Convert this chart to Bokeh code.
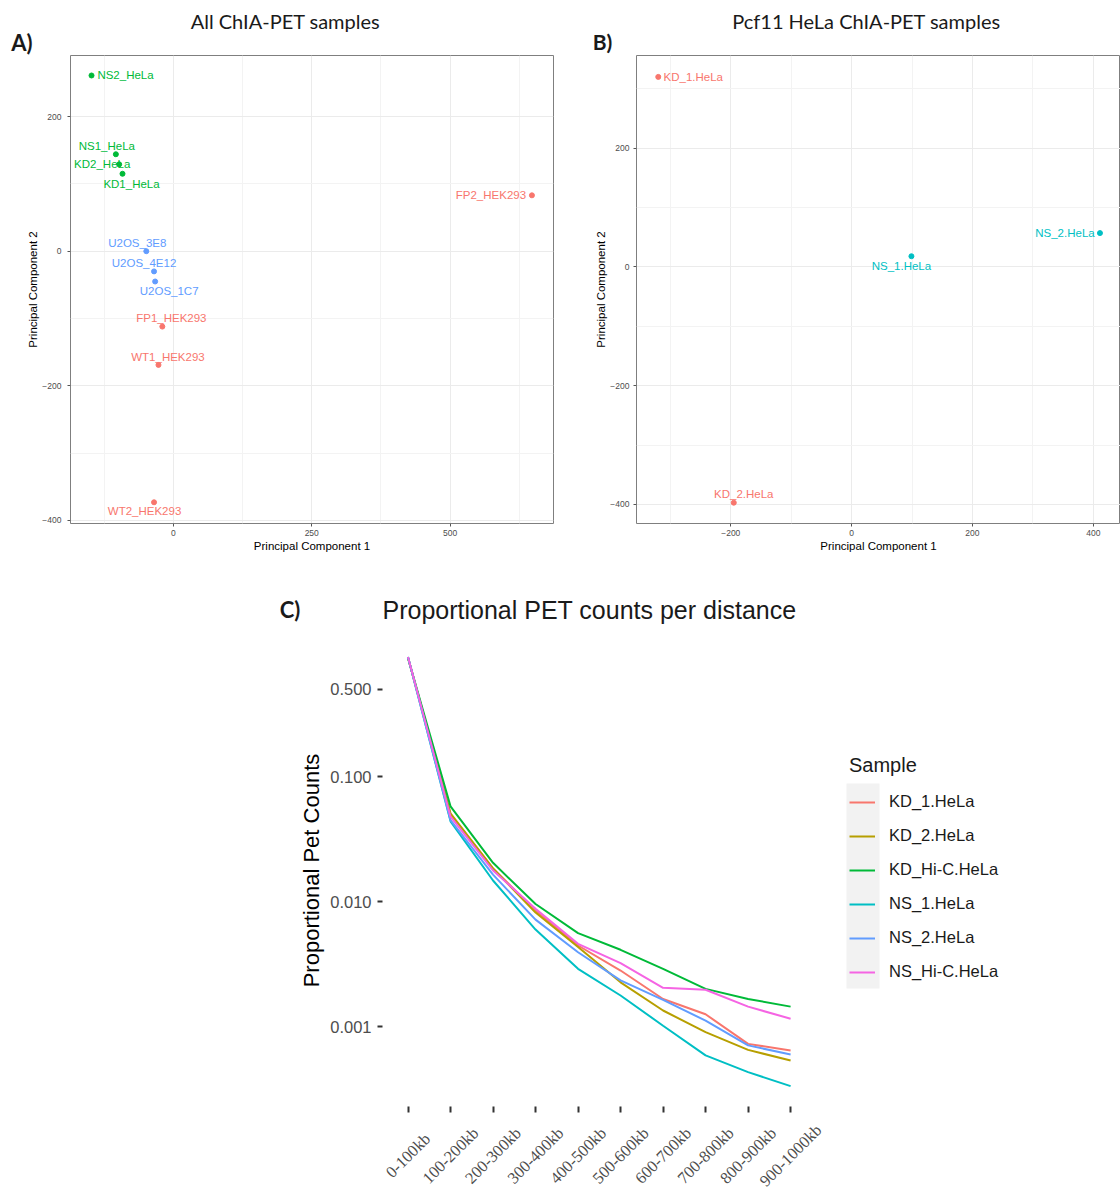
import math
from bokeh.plotting import figure
from bokeh.models import (ColumnDataSource, Label, LabelSet, FixedTicker, CustomJSTickFormatter,
                          Range1d, Legend, LegendItem, BoxAnnotation)
from bokeh.layouts import column, row
from bokeh.embed import file_html
from bokeh.resources import INLINE
from bokeh.core.properties import value

# ---------------- data ----------------
# Panel A: PCA of all ChIA-PET samples
a_samples = ["NS2_HeLa", "NS1_HeLa", "KD2_HeLa", "KD1_HeLa", "U2OS_3E8", "U2OS_4E12",
             "U2OS_1C7", "FP1_HEK293", "WT1_HEK293", "WT2_HEK293", "FP2_HEK293"]
a_cell = ["HeLa", "HeLa", "HeLa", "HeLa", "U2OS", "U2OS", "U2OS",
          "HEK293", "HEK293", "HEK293", "HEK293"]
a_pc1 = [-148, -104, -98, -92, -49, -35, -33, -20, -27, -35, 648]
a_pc2 = [261, 144, 129, 115, 0, -30, -45, -112, -169, -373, 83]
a_xticks = [0, 250, 500]
a_yticks = [-400, -200, 0, 200]

# Panel B: PCA of Pcf11 HeLa samples
b_samples = ["KD_1.HeLa", "KD_2.HeLa", "NS_1.HeLa", "NS_2.HeLa"]
b_group = ["KD", "KD", "NS", "NS"]
b_pc1 = [-320, -195, 99, 411]
b_pc2 = [320, -397, 18, 57]
b_xticks = [-200, 0, 200, 400]
b_yticks = [-400, -200, 0, 200]

# Panel C: proportional PET counts per distance
distance_bins = ["0-100kb", "100-200kb", "200-300kb", "300-400kb", "400-500kb",
                 "500-600kb", "600-700kb", "700-800kb", "800-900kb", "900-1000kb"]
kd_1_hela = [0.90, 0.050, 0.0185, 0.0085, 0.00447, 0.00282, 0.00167, 0.00126, 0.00073, 0.000646]
kd_2_hela = [0.90, 0.051, 0.0185, 0.0082, 0.00435, 0.00227, 0.00135, 0.000906, 0.000654, 0.000537]
kd_hic_hela = [0.89, 0.058, 0.0205, 0.0096, 0.00561, 0.00413, 0.00291, 0.00201, 0.00167, 0.00145]
ns_1_hela = [0.91, 0.044, 0.0148, 0.0060, 0.00291, 0.00178, 0.00102, 0.00059, 0.000434, 0.000335]
ns_2_hela = [0.91, 0.045, 0.0165, 0.0072, 0.00395, 0.00235, 0.00164, 0.00112, 0.00071, 0.00060]
ns_hic_hela = [0.91, 0.048, 0.0178, 0.0088, 0.00461, 0.00323, 0.00205, 0.00198, 0.00145, 0.00116]
c_names = ["KD_1.HeLa", "KD_2.HeLa", "KD_Hi-C.HeLa", "NS_1.HeLa", "NS_2.HeLa", "NS_Hi-C.HeLa"]
c_series = [kd_1_hela, kd_2_hela, kd_hic_hela, ns_1_hela, ns_2_hela, ns_hic_hela]
c_yticks = [0.001, 0.01, 0.1, 0.5]

# ---------------- styles ----------------
FONT = "Liberation Sans"
HEAD_FONT = "Lato"
cell_colors = {"HEK293": "#F8766D", "HeLa": "#00BA38", "U2OS": "#619CFF"}
group_colors = {"KD": "#F8766D", "NS": "#00BFC4"}
c_colors = ["#F8766D", "#B79F00", "#00BA38", "#00BFC4", "#619CFF", "#F564E3"]
# label offsets (pixels) relative to their point
a_label_dx = [34, -9, -17, 9, -9, -10, 14, 9, 9.5, -9.5, -41]
a_label_dy = [0, -8, 0, 10, -8, -8, 10, -9, -8, 9, 0]
b_label_dx = [35, 10, -10, -35]
b_label_dy = [0, -9, 10, 0]

minus_fmt = CustomJSTickFormatter(code="return tick < 0 ? '\u2212' + Math.abs(tick) : String(tick);")


def blank(width, height, x_range=None):
    h = figure(width=width, height=height,
               x_range=x_range if x_range is not None else Range1d(0, width),
               y_range=Range1d(0, height),
               x_axis_location=None, y_axis_location=None, min_border=0,
               output_backend="svg", toolbar_location=None)
    h.outline_line_color = None
    h.grid.visible = False
    return h


def header(height, labels):
    h = blank(1120, height)
    for (txt, x, y, size, font, style, align) in labels:
        h.add_layout(Label(x=x, y=height - y, x_units="screen", y_units="screen", text=txt,
                           text_align=align, text_baseline="middle", text_font=font,
                           text_font_size=size, text_font_style=style, text_color="#1a1a1a"))
    return h


def style_pca(p, xticks, yticks, xminor, yminor, ylabel_standoff):
    p.outline_line_color = "#7f7f7f"
    p.outline_line_width = 1
    p.background_fill_color = "white"
    for ax in (p.xaxis[0], p.yaxis[0]):
        ax.axis_line_color = None
        ax.major_tick_in = 0
        ax.major_tick_out = 3
        ax.major_tick_line_color = "#555555"
        ax.minor_tick_line_color = None
        ax.major_label_text_font = FONT
        ax.major_label_text_font_size = "8.5px"
        ax.major_label_text_color = "#4D4D4D"
        ax.axis_label_text_font = FONT
        ax.axis_label_text_font_size = "11.5px"
        ax.axis_label_text_font_style = "normal"
        ax.axis_label_text_color = "#000000"
        ax.formatter = minus_fmt
    p.xaxis[0].ticker = FixedTicker(ticks=xticks, minor_ticks=xminor)
    p.yaxis[0].ticker = FixedTicker(ticks=yticks, minor_ticks=yminor)
    p.xaxis[0].major_label_standoff = 2
    p.xaxis[0].axis_label_standoff = 1
    p.yaxis[0].major_label_standoff = ylabel_standoff
    p.yaxis[0].axis_label_standoff = 0
    p.xaxis[0].axis_label = "Principal Component 1"
    p.yaxis[0].axis_label = "Principal Component 2"
    for g, t, m in ((p.xgrid[0], xticks, xminor), (p.ygrid[0], yticks, yminor)):
        g.ticker = FixedTicker(ticks=t, minor_ticks=m)
        g.grid_line_color = "#EBEBEB"
        g.grid_line_width = 1
        g.minor_grid_line_color = "#F3F3F3"
        g.minor_grid_line_width = 1


# ---------------- headers ----------------
hdr_top = header(55, [
    ("All ChIA-PET samples", 285, 20, "20px", HEAD_FONT, "normal", "center"),
    ("Pcf11 HeLa ChIA-PET samples", 866, 20, "20px", HEAD_FONT, "normal", "center"),
    ("A)", 21.5, 41.5, "22px", HEAD_FONT, "bold", "center"),
    ("B)", 602, 41, "21px", HEAD_FONT, "bold", "center"),
])
hdr_c = header(74, [
    ("C)", 289.5, 49, "22px", HEAD_FONT, "bold", "center"),
    ("Proportional PET counts per distance", 382, 49, "25px", FONT, "normal", "left"),
])

# ---------------- Panel A ----------------
pA = figure(width=560, height=505, x_range=Range1d(-186, 687), y_range=Range1d(-404.5, 290.7),
            output_backend="svg", toolbar_location=None,
            min_border_left=70, min_border_right=7, min_border_top=0, min_border_bottom=37)
style_pca(pA, a_xticks, a_yticks, [-125, 125, 375, 625], [-300, -100, 100], 5)
srcA = ColumnDataSource(dict(x=a_pc1, y=a_pc2, label=a_samples,
                             color=[cell_colors[c] for c in a_cell],
                             dx=a_label_dx, dy=a_label_dy))
pA.scatter("x", "y", size=5, color="color", source=srcA)
pA.text("x", "y", text="label", x_offset="dx", y_offset="dy", text_align="center",
        text_baseline="middle", text_color="color", text_font=value(FONT),
        text_font_size="11.5px", source=srcA)

# ---------------- Panel B ----------------
pB = figure(width=560, height=505, x_range=Range1d(-356, 445), y_range=Range1d(-432, 356),
            output_backend="svg", toolbar_location=None,
            min_border_left=76, min_border_right=0, min_border_top=0, min_border_bottom=35)
style_pca(pB, b_xticks, b_yticks, [-300, -100, 100, 300], [-300, -100, 100, 300], 3)
srcB = ColumnDataSource(dict(x=b_pc1, y=b_pc2, label=b_samples,
                             color=[group_colors[g] for g in b_group],
                             dx=b_label_dx, dy=b_label_dy))
pB.scatter("x", "y", size=5, color="color", source=srcB)
pB.text("x", "y", text="label", x_offset="dx", y_offset="dy", text_align="center",
        text_baseline="middle", text_color="color", text_font=value(FONT),
        text_font_size="11.5px", source=srcB)

# ---------------- Panel C ----------------
xs = list(range(len(distance_bins)))
c_xrange = Range1d(-0.6, 16.29)
pC = figure(width=1120, height=480, x_range=c_xrange,
            y_range=Range1d(10 ** -3.6376, 10 ** 0.1384), y_axis_type="log",
            output_backend="svg", toolbar_location=None,
            min_border_left=382, min_border_right=20, min_border_top=0, min_border_bottom=8)
pC.outline_line_color = None
pC.xgrid.visible = False
pC.ygrid.visible = False
for ax in (pC.xaxis[0], pC.yaxis[0]):
    ax.axis_line_color = None
    ax.major_tick_in = 0
    ax.major_tick_out = 6
    ax.major_tick_line_width = 2
    ax.major_tick_line_color = "#333333"
    ax.minor_tick_line_color = None
    ax.major_label_text_font = FONT
    ax.major_label_text_font_size = "16.5px"
    ax.major_label_text_color = "#4D4D4D"
    ax.axis_label_text_font = FONT
    ax.axis_label_text_font_style = "normal"
    ax.axis_label_text_color = "#000000"
pC.xaxis[0].ticker = FixedTicker(ticks=xs)
pC.xaxis[0].formatter = CustomJSTickFormatter(code="return '';")
pC.xaxis[0].major_label_standoff = 0
pC.yaxis[0].major_tick_out = 5
pC.yaxis[0].ticker = FixedTicker(ticks=c_yticks)
pC.yaxis[0].formatter = CustomJSTickFormatter(code="return tick.toFixed(3);")
pC.yaxis[0].major_label_standoff = 6
pC.yaxis[0].axis_label = "Proportional Pet Counts"
pC.yaxis[0].axis_label_text_font_size = "22px"
pC.yaxis[0].axis_label_standoff = 3

items = []
for name, vals, col in zip(c_names, c_series, c_colors):
    r = pC.line(xs, vals, line_color=col, line_width=2)
    items.append(LegendItem(label=name, renderers=[r]))

pC.add_layout(BoxAnnotation(left=464, right=497, bottom=118, top=323,
                            left_units="screen", right_units="screen",
                            top_units="screen", bottom_units="screen",
                            fill_color="#F2F2F2", fill_alpha=1, line_color=None,
                            level="underlay"))
legend = Legend(items=items, location=(467, 117.5), title="Sample",
                title_text_font=FONT, title_text_font_size="20px",
                title_text_font_style="normal", title_text_color="#1a1a1a",
                label_text_font=FONT, label_text_font_size="16.5px",
                label_text_color="#1a1a1a", glyph_width=26, glyph_height=34,
                label_height=34, spacing=0, padding=0, margin=0, label_standoff=14,
                title_standoff=8, background_fill_alpha=0, border_line_color=None)
pC.add_layout(legend)

# rotated category labels, centred under their ticks (shares panel C's x scale)
footer = blank(1120, 77, x_range=c_xrange)
footer.add_layout(LabelSet(x="x", y=36, y_units="screen", text="text", angle=math.pi / 4,
                           text_align="center", text_baseline="middle", text_font=FONT,
                           text_font_size="16.5px", text_color="#4D4D4D",
                           source=ColumnDataSource(dict(x=xs, text=distance_bins))))

layout = column(row(hdr_top), row(pA, pB), row(hdr_c), pC, footer)
open("out.html", "w").write(file_html(layout, INLINE))
